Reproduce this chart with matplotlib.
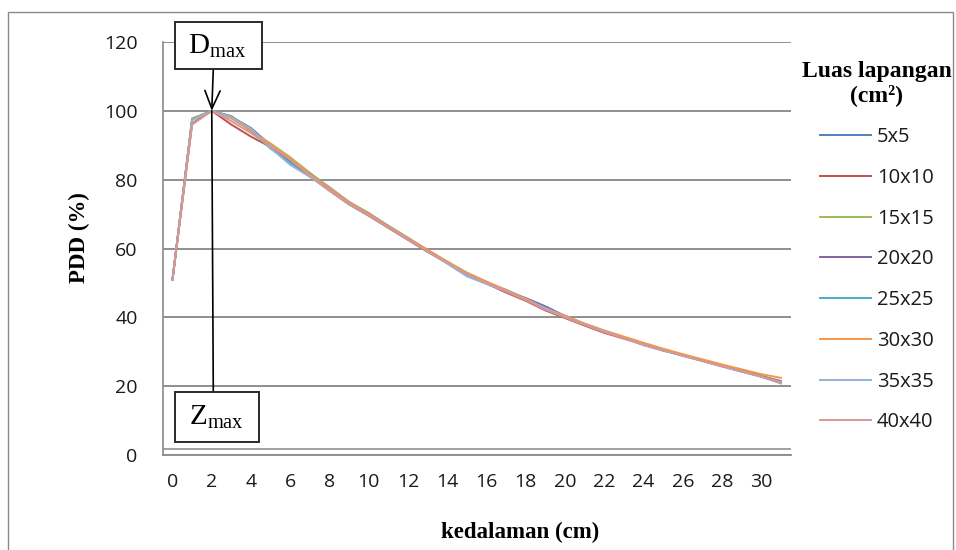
import numpy as np
import matplotlib
matplotlib.use("Agg")
import matplotlib.pyplot as plt
from matplotlib.patches import Rectangle

# ---------------- data ----------------
depth = list(range(0, 32))  # kedalaman (cm), category axis
xtick_labels = [str(v) for v in range(0, 31, 2)]
yticks = [0, 20, 40, 60, 80, 100, 120]

field_sizes = ["5x5", "10x10", "15x15", "20x20", "25x25", "30x30", "35x35", "40x40"]
colors = ["#4F81BD", "#C0504D", "#9BBB59", "#8064A2", "#4BACC6", "#F79646", "#95B3D7", "#D99694"]

pdd_5x5 = [51, 97.5, 100, 98.0, 94.5, 89.5, 85.0, 81.0, 77.0, 73.2, 70.0, 66.5, 63.0, 59.5, 56.0, 52.5,
           50.0, 47.8, 45.2, 42.5, 40.2, 38.0, 36.0, 34.0, 32.0, 30.3, 29.0, 27.4, 25.8, 24.3, 22.8, 21.0]
pdd_10x10 = [51, 96.3, 100, 96.0, 92.5, 89.5, 85.5, 81.0, 76.8, 72.8, 69.5, 66.0, 62.5, 59.0, 55.8, 52.5,
             49.8, 47.2, 44.8, 42.0, 39.8, 37.6, 35.5, 33.8, 32.2, 30.5, 28.9, 27.4, 25.9, 24.4, 22.9, 21.5]
pdd_15x15 = [51, 97.8, 100, 98.5, 94.0, 90.5, 86.5, 82.0, 77.5, 73.5, 70.3, 66.5, 63.0, 59.5, 56.2, 53.0,
             50.3, 47.9, 45.3, 42.5, 40.3, 38.0, 36.0, 34.2, 32.4, 30.6, 29.0, 27.5, 25.9, 24.5, 23.0, 21.3]
pdd_20x20 = [51, 97.5, 100, 98.3, 95.0, 90.0, 85.8, 81.5, 77.3, 73.0, 70.0, 66.3, 62.8, 59.3, 55.9, 52.6,
             50.2, 47.7, 45.6, 43.2, 40.4, 37.9, 35.8, 34.0, 32.3, 30.6, 29.0, 27.4, 25.9, 24.4, 22.9, 21.2]
pdd_25x25 = [51, 97.5, 100, 98.0, 94.2, 89.0, 85.0, 81.8, 77.8, 73.5, 70.2, 66.6, 63.1, 59.4, 55.9, 52.6,
             50.0, 48.0, 45.4, 42.6, 40.4, 38.1, 36.0, 34.1, 32.2, 30.5, 28.9, 27.4, 25.8, 24.3, 22.8, 20.9]
pdd_30x30 = [51, 97.4, 100, 97.8, 94.3, 90.3, 86.2, 81.6, 77.6, 73.4, 70.1, 66.5, 63.1, 59.6, 56.2, 52.9,
             50.4, 47.9, 45.4, 42.6, 40.5, 38.2, 36.2, 34.4, 32.6, 30.9, 29.3, 27.8, 26.3, 24.9, 23.5, 22.4]
pdd_35x35 = [51, 97.3, 100, 98.2, 94.8, 89.2, 84.3, 80.8, 77.0, 72.8, 69.6, 66.2, 62.7, 59.1, 55.6, 51.9,
             49.7, 47.6, 45.1, 42.7, 40.1, 37.9, 35.9, 33.9, 31.9, 30.4, 28.8, 27.3, 25.7, 24.2, 22.7, 21.2]
pdd_40x40 = [51, 96.0, 100, 97.0, 93.5, 89.8, 85.8, 81.2, 76.9, 73.0, 69.7, 66.2, 62.6, 59.2, 55.9, 52.6,
             50.0, 47.5, 45.0, 42.2, 40.0, 37.8, 35.7, 33.9, 32.1, 30.4, 28.9, 27.3, 25.8, 24.3, 22.8, 20.8]

series = [pdd_5x5, pdd_10x10, pdd_15x15, pdd_20x20, pdd_25x25, pdd_30x30, pdd_35x35, pdd_40x40]

# ---------------- style ----------------
W, H = 956, 550
DPI = 100
serif = ["Liberation Serif", "DejaVu Serif"]
sans = ["Open Sans", "DejaVu Sans"]
plt.rcParams["mathtext.fontset"] = "custom"
plt.rcParams["mathtext.rm"] = "Liberation Serif"
plt.rcParams["mathtext.it"] = "Liberation Serif:italic"
plt.rcParams["mathtext.bf"] = "Liberation Serif:bold"

fig = plt.figure(figsize=(W / DPI, H / DPI), dpi=DPI)

def fx(px):
    return px / W

def fy(py):
    return 1 - py / H

# outer chart border
fig.patches.append(Rectangle((fx(8), fy(560)), fx(953) - fx(8), fy(12) - fy(560),
                             transform=fig.transFigure, fill=False, edgecolor="#8a8a8a",
                             linewidth=1.0, clip_on=False))

ax = fig.add_axes([fx(162.7), fy(455), fx(790.7) - fx(162.7), fy(42) - fy(455)])

for vals, c, lab in zip(series, colors, field_sizes):
    ax.plot(depth, vals, color=c, lw=1.4, label=lab, solid_joinstyle="round")

ax.set_xlim(-0.5, len(depth) - 0.5)
ax.set_ylim(0, 120)
ax.set_yticks(yticks)
ax.set_xticks(list(range(0, 31, 2)))
ax.set_xticklabels(xtick_labels)

ax.grid(axis="y", color="#868686", lw=1.3)
ax.set_axisbelow(True)
ax.axhline(1.75, color="#9a9a9a", lw=1.3, zorder=0.5)
for s in ["top", "right"]:
    ax.spines[s].set_visible(False)
ax.spines["left"].set_color("#8a8a8a")
ax.spines["bottom"].set_color("#8a8a8a")
ax.spines["left"].set_linewidth(1.2)
ax.spines["bottom"].set_linewidth(1.3)

ax.tick_params(axis="x", which="both", length=0, width=0, colors="#1a1a1a", labelsize=14, pad=13)
ax.tick_params(axis="y", which="both", length=0, width=0, colors="#1a1a1a", labelsize=14, pad=18)
for t in ax.get_xticklabels() + ax.get_yticklabels():
    t.set_family(sans)

fig.text(fx(520), fy(532), "kedalaman (cm)", family=serif, fontweight="bold", fontsize=16.5,
         ha="center", va="center", color="black")
fig.text(fx(79), fy(238), "PDD (%)", family=serif, fontweight="bold", fontsize=16.5,
         ha="center", va="center", rotation=90, color="black")

# ---------------- Dmax / Zmax annotation ----------------
peak_i = int(np.argmax(pdd_5x5))
peak_x = depth[peak_i]
peak_y = max(pdd_5x5)

fig.patches.append(Rectangle((fx(175), fy(69.3)), fx(261.7) - fx(175), fy(21.7) - fy(69.3),
                             transform=fig.transFigure, facecolor="white", edgecolor="#2a2a2a",
                             linewidth=1.4, zorder=5))
fig.text(fx(217), fy(46), r"$\mathrm{D}_{\mathrm{max}}$", ha="center", va="center",
         fontsize=21, color="black", zorder=6)

fig.patches.append(Rectangle((fx(175), fy(441.7)), fx(259) - fx(175), fy(392.3) - fy(441.7),
                             transform=fig.transFigure, facecolor="white", edgecolor="#2a2a2a",
                             linewidth=1.4, zorder=5))
fig.text(fx(216), fy(417), r"$\mathrm{Z}_{\mathrm{max}}$", ha="center", va="center",
         fontsize=21, color="black", zorder=6)

ax.annotate("", xy=(peak_x, peak_y), xycoords="data",
            xytext=(fx(213.3), fy(69.3)), textcoords="figure fraction",
            arrowprops=dict(arrowstyle="->,head_length=1.3,head_width=0.55", color="black",
                            lw=1.2, shrinkA=0, shrinkB=0), annotation_clip=False, zorder=7)
ax.annotate("", xy=(fx(213.3), fy(392.3)), xycoords="figure fraction",
            xytext=(peak_x, peak_y), textcoords="data",
            arrowprops=dict(arrowstyle="-", color="black", lw=1.2, shrinkA=0, shrinkB=0),
            annotation_clip=False, zorder=7)

# ---------------- legend ----------------
leg = fig.legend(loc="upper left", bbox_to_anchor=(fx(802), fy(61)), frameon=False,
                 prop={"family": sans, "size": 14.5}, handlelength=2.5, handletextpad=0.3,
                 labelspacing=1.03, borderaxespad=0, borderpad=0,
                 title="Luas lapangan\n(cm²)",
                 title_fontproperties={"family": serif, "weight": "bold", "size": 17})
leg.get_title().set_ha("center")
leg.get_title().set_linespacing(1.15)
leg._legend_box.align = "center"
for t in leg.get_texts():
    t.set_color("#1a1a1a")

fig.savefig("out.png", dpi=DPI)
